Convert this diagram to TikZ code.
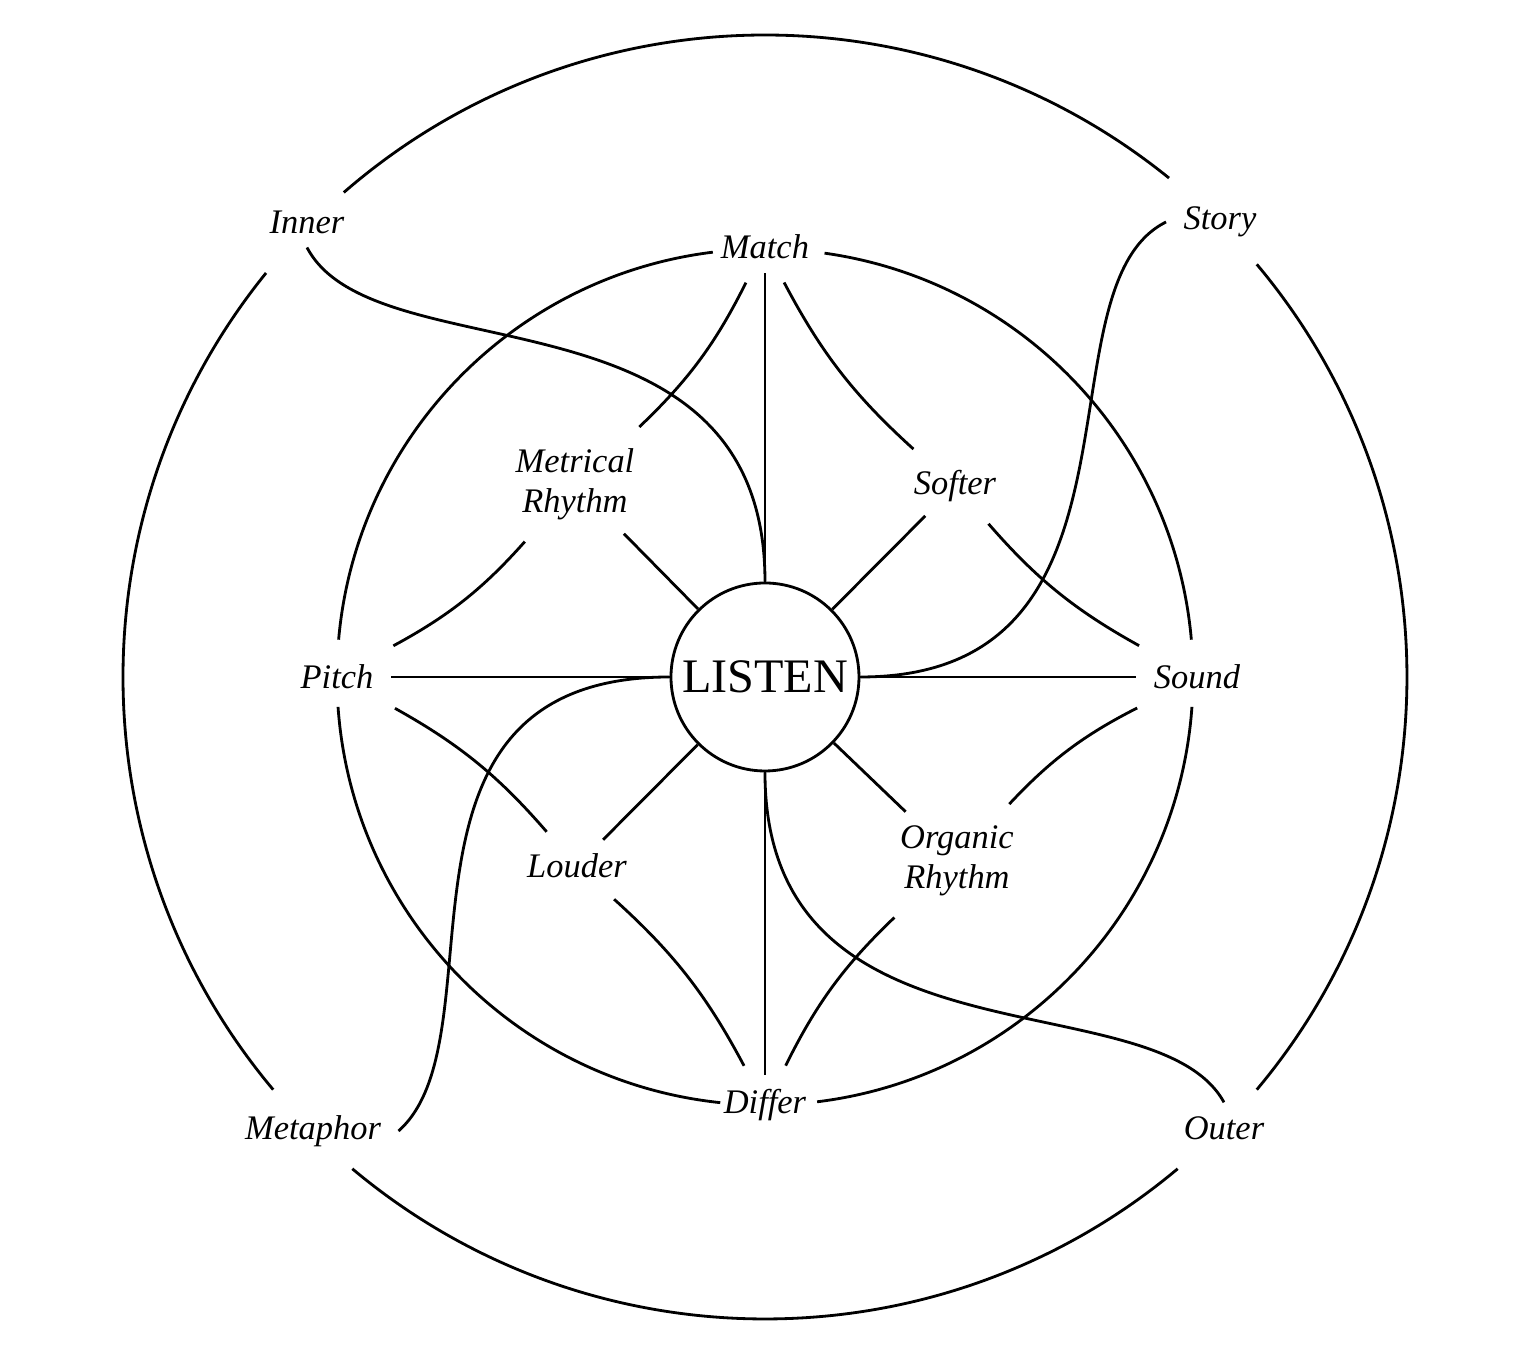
\documentclass[tikz,border=0pt]{standalone}
\usepackage{fontspec}
\setmainfont{Liberation Serif}
\usetikzlibrary{positioning}

\begin{document}
\begin{tikzpicture}[thick,
    word/.style={font=\itshape\fontsize{9.8}{11.4}\selectfont, align=center,
      inner xsep=2pt, inner ysep=1pt, outer sep=3pt}]
  \useasboundingbox (-7.65,-6.95) rectangle (7.55,6.77);
  % centre
  \node[circle, draw, minimum size=1.88cm, inner sep=0pt,
    font=\fontsize{13.7}{16}\selectfont] (listen) at (0,0) {LISTEN};
  % inner ring of words
  \node[word] (match)    at (0,4.30)      {Match};
  \node[word] (softer)   at (1.90,1.91)   {Softer};
  \node[word] (sound)    at (4.32,0)      {Sound};
  \node[word] (organic)  at (1.92,-1.84)  {Organic\\Rhythm};
  \node[word] (differ)   at (0,-4.28)     {Differ};
  \node[word] (louder)   at (-1.88,-1.89) {Louder};
  \node[word] (pitch)    at (-4.28,0)     {Pitch};
  \node[word] (metrical) at (-1.90,1.93)  {Metrical\\Rhythm};
  % outer corners
  \node[word] (inner)    at (-4.58,4.55)  {Inner};
  \node[word] (story)    at (4.55,4.55)   {Story};
  \node[word] (metaphor) at (-4.52,-4.54) {Metaphor};
  \node[word] (outer)    at (4.59,-4.51)  {Outer};
  % the two rings, broken at the words
  \foreach \a/\b in {5/82, 97/175, 184/264, 277/356}
    \draw (\a:4.28) arc[start angle=\a, end angle=\b, radius=4.28];
  \foreach \a/\b in {51/131, 141/220, 230/310, 320/400}
    \draw (\a:6.42) arc[start angle=\a, end angle=\b, radius=6.42];
  % spokes
  \foreach \n in {match,softer,sound,organic,differ,louder,pitch,metrical}
    \draw (listen) -- (\n);
  % petals
  \foreach \a/\b in {match/softer, softer/sound, sound/organic, organic/differ,
                     differ/louder, louder/pitch, pitch/metrical, metrical/match}
    \draw[shorten <=3pt, shorten >=3pt] (\a) to[bend right=10] (\b);
  % swirls from the corners
  \draw (inner.south) .. controls (-3.9,3.0) and (0,4.0) .. (listen.north);
  \draw (story.west) .. controls (2.7,3.9) and (4.0,0) .. (listen.east);
  \draw (outer.north) .. controls (3.9,-3.0) and (0,-4.0) .. (listen.south);
  \draw (metaphor.east) .. controls (-2.6,-3.6) and (-4.0,0) .. (listen.west);
\end{tikzpicture}
\end{document}
